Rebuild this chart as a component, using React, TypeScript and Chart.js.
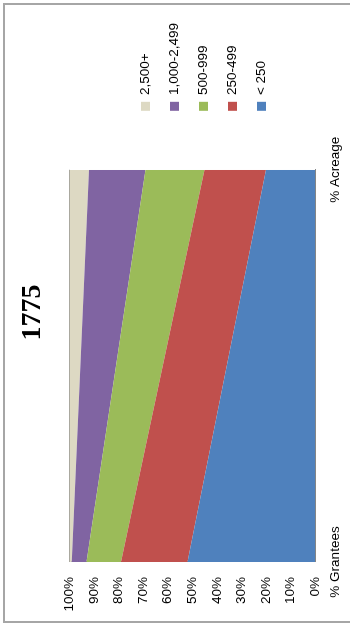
import React, { useEffect, useRef } from 'react';
import { Chart, registerables } from 'chart.js';

Chart.register(...registerables);

// Share of grantees vs. share of acreage by grant size, 1775
const categories = ['% Grantees', '% Acreage'];
const seriesNames = ['< 250', '250-499', '500-999', '1,000-2,499', '2,500+'];
const under250 = [52, 20];
const from250to499 = [27, 25];
const from500to999 = [14, 24];
const from1000to2499 = [6, 23];
const over2500 = [1, 8];
const seriesColors = ['#4F81BD', '#C0504D', '#9BBB59', '#8064A2', '#DDD9C3'];
const percentTicks = [0, 10, 20, 30, 40, 50, 60, 70, 80, 90, 100];
const chartTitle = '1775';

const seriesValues = [under250, from250to499, from500to999, from1000to2499, over2500];

const TEXT_FONT = '"Liberation Sans", Arial, sans-serif';
const TITLE_FONT = '"Liberation Serif", "Times New Roman", serif';
const AXIS_GRAY = '#868686';

// The layout engine caps side boxes at a fraction of the width; let the
// legend take the room its longest label needs.
const legendRoomPlugin = {
  id: 'legendRoom',
  beforeLayout(chart: any) {
    const legend = chart.legend;
    if (legend && !legend.__roomy) {
      const update = legend.update.bind(legend);
      legend.update = (maxWidth: number, maxHeight: number, margins: any) =>
        update(Math.max(maxWidth, 150), maxHeight, margins);
      legend.__roomy = true;
    }
  },
};

function buildChart(canvas: HTMLCanvasElement) {
  return new Chart(canvas, {
    type: 'line',
    plugins: [legendRoomPlugin],
    data: {
      labels: categories,
      datasets: seriesNames.map((name, i) => ({
        label: name,
        data: seriesValues[i],
        backgroundColor: seriesColors[i],
        borderColor: seriesColors[i],
        borderWidth: 0,
        pointRadius: 0,
        pointHoverRadius: 0,
        tension: 0,
        fill: i === 0 ? 'origin' : '-1',
        yAxisID: 'y',
      })),
    },
    options: {
      responsive: false,
      animation: false,
      events: [],
      layout: { padding: { left: 12, right: 13, top: 0, bottom: 0 } },
      scales: {
        x: {
          type: 'category',
          offset: false,
          grid: { display: false, drawTicks: false },
          border: { display: true, color: AXIS_GRAY, width: 1 },
          ticks: {
            color: '#000',
            font: { family: TEXT_FONT, size: 13.5 },
            padding: 12,
            maxRotation: 0,
            minRotation: 0,
          },
          afterFit: (scale: any) => {
            scale.height = 34.7;
          },
        },
        y: {
          type: 'linear',
          position: 'left',
          stacked: true,
          min: 0,
          max: 100,
          afterBuildTicks: (scale: any) => {
            scale.ticks = percentTicks.map((value) => ({ value }));
          },
          grid: {
            display: true,
            drawTicks: false,
            color: (ctx: any) => (ctx.tick && ctx.tick.value === 100 ? AXIS_GRAY : 'rgba(0,0,0,0)'),
            lineWidth: 1,
          },
          border: { display: true, color: AXIS_GRAY, width: 1 },
          ticks: {
            color: '#000',
            font: { family: TEXT_FONT, size: 13.5 },
            padding: 15,
            callback: (v: any) => `${v}%`,
          },
          afterFit: (scale: any) => {
            scale.width = 50;
          },
        },
        // empty spacer between the plot and the legend
        gap: {
          type: 'linear',
          position: 'right',
          display: true,
          grid: { display: false, drawTicks: false },
          border: { display: false },
          ticks: { display: false },
          afterFit: (scale: any) => {
            scale.width = 43.5;
          },
        },
      },
      plugins: {
        title: {
          display: true,
          text: chartTitle,
          color: '#000',
          font: { family: TITLE_FONT, size: 28, weight: 'bold' },
          padding: { top: 16.2, bottom: 19.5 },
        },
        legend: {
          display: true,
          position: 'right',
          fullSize: false,
          reverse: true,
          align: 'center',
          title: { display: true, text: '', padding: 0, font: { size: 10, lineHeight: 2.24 } },
          labels: {
            color: '#000',
            font: { family: TEXT_FONT, size: 13.5 },
            boxWidth: 9,
            boxHeight: 9,
            padding: 15.5,
          },
        },
        tooltip: { enabled: false },
      },
    },
  });
}

export default function App() {
  const canvasRef = useRef<HTMLCanvasElement | null>(null);

  useEffect(() => {
    let chart: Chart | null = null;
    let cancelled = false;
    const fontsReady = Promise.all([
      document.fonts.load(`13.5px ${TEXT_FONT}`),
      document.fonts.load(`bold 28px ${TITLE_FONT}`),
    ]).catch(() => undefined);
    fontsReady.then(() => {
      if (cancelled || !canvasRef.current) return;
      chart = buildChart(canvasRef.current);
    });
    return () => {
      cancelled = true;
      if (chart) chart.destroy();
    };
  }, []);

  return (
    <div
      style={{
        position: 'fixed',
        left: 0,
        top: 0,
        width: 350,
        height: 624,
        overflow: 'hidden',
        background: '#fff',
      }}
    >
      <div
        style={{
          position: 'absolute',
          left: 0,
          top: 0,
          width: 624,
          height: 350,
          transformOrigin: '0 0',
          transform: 'translate(0px, 624px) rotate(-90deg)',
        }}
      >
        <canvas ref={canvasRef} width={624} height={350} style={{ display: 'block' }} />
      </div>
      <div
        style={{
          position: 'absolute',
          left: 3,
          top: 3,
          width: 400,
          height: 620,
          boxSizing: 'border-box',
          border: '2px solid #a6a6a6',
          pointerEvents: 'none',
        }}
      />
    </div>
  );
}
